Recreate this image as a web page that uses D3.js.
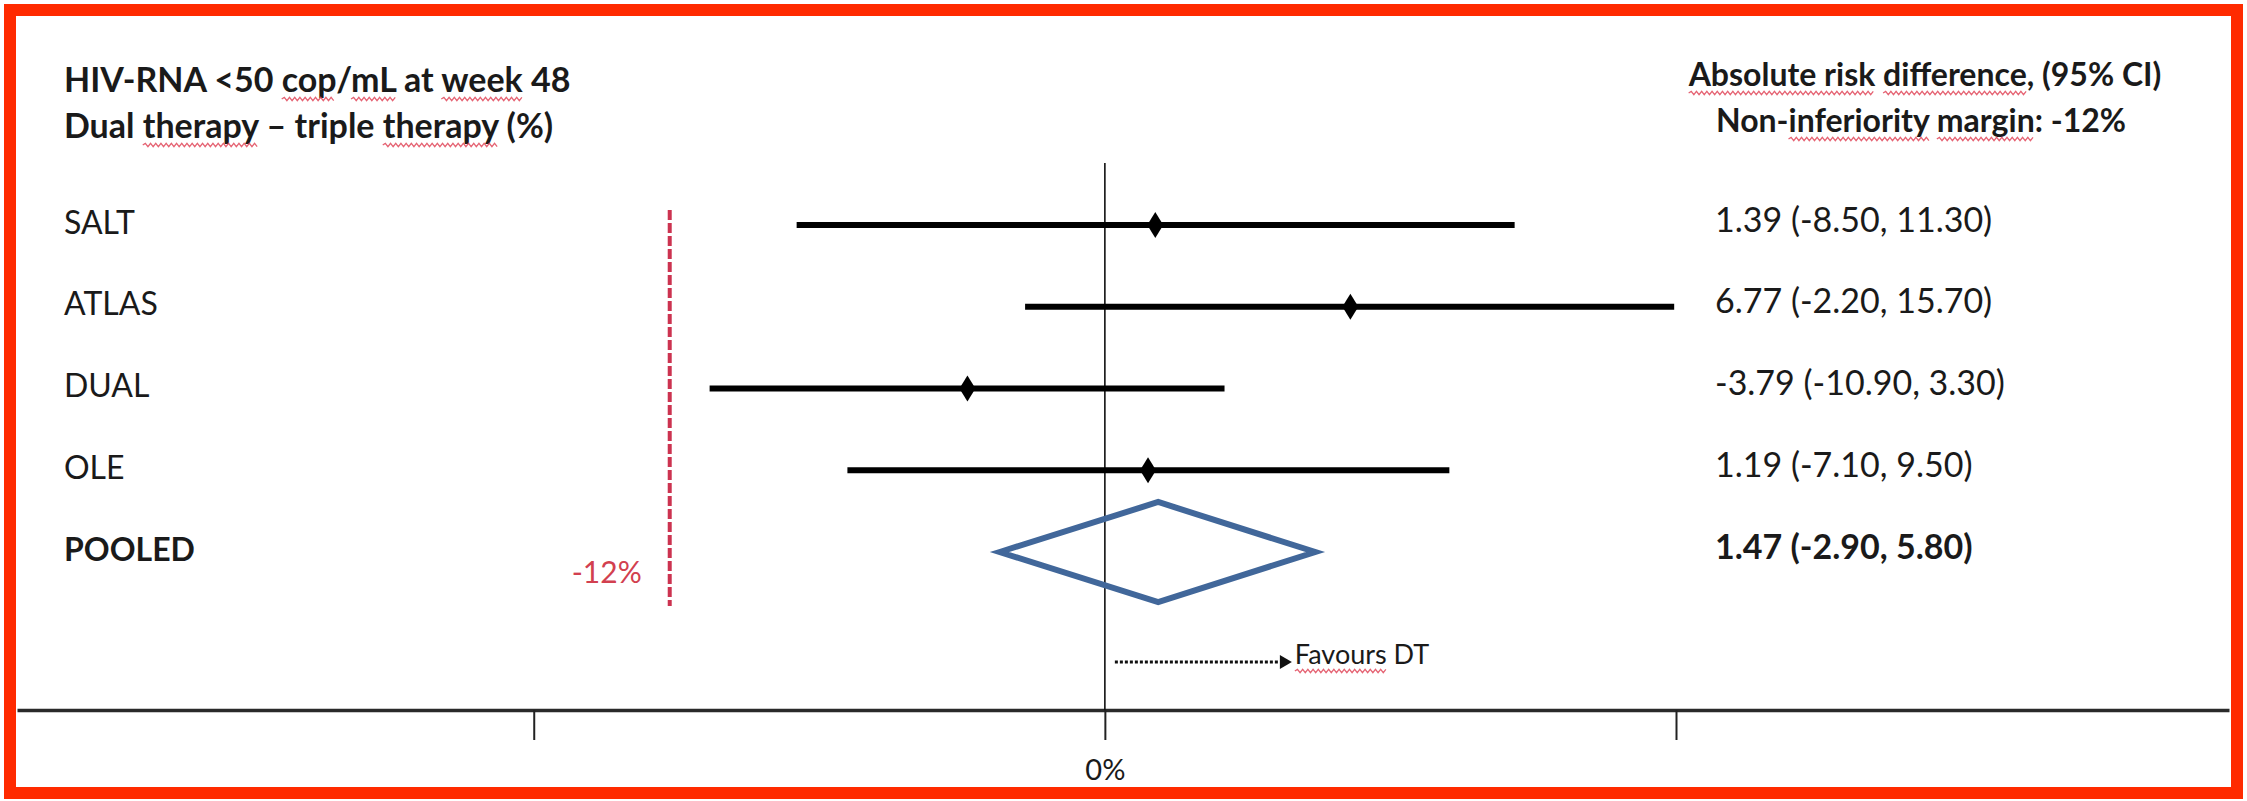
<!DOCTYPE html>
<html>
<head>
<meta charset="utf-8">
<script src="https://cdn.jsdelivr.net/npm/d3@7"></script>
<style>
  html, body { margin: 0; padding: 0; background: #ffffff; }
  svg { display: block; }
  text { font-family: Lato, "Open Sans", sans-serif; }
</style>
</head>
<body>
<svg id="chart" width="2247" height="801"></svg>
<script>
// Individual trials: absolute risk difference (dual - triple therapy) with 95% CI
const studies   = ["SALT", "ATLAS", "DUAL", "OLE"];
const estimates = [1.39, 6.77, -3.79, 1.19];
const lowerCI   = [-8.50, -2.20, -10.90, -7.10];
const upperCI   = [11.30, 15.70, 3.30, 9.50];

// Pooled estimate
const pooledLabel = "POOLED";
const pooledEstimate = 1.47;
const pooledLower = -2.90;
const pooledUpper = 5.80;

// Non-inferiority margin and axis ticks
const marginValue = -12;
const marginLabel = "-12%";
const tickValues = [-15.75, 0, 15.75];
const tickLabels = ["", "0%", ""];

const W = 2247, H = 801;
const svg = d3.select("#chart");
const ink = "#1a1a1a";

svg.append("rect").attr("width", W).attr("height", H).attr("fill", "#ffffff");

const x = d3.scaleLinear().domain([-30, 31]).range([17, 2229]);
const rows = [...studies, pooledLabel];
const y = d3.scalePoint().domain(rows).range([225, 552]);
const axisY = 710;

// plain hyphen for negatives, two decimals
const fmt = v => v.toFixed(2);
const ciText = (e, l, u) => `${fmt(e)} (${fmt(l)}, ${fmt(u)})`;

// spell-check style wavy underline
function squiggle(g, x0, x1, yb) {
  const step = 2.6, amp = 1.6;
  let d = `M${x0},${yb}`;
  let up = true;
  for (let xx = x0 + step; xx <= x1; xx += step) {
    d += `L${xx},${yb + (up ? -amp : amp)}`;
    up = !up;
  }
  g.append("path").attr("d", d).attr("fill", "none")
    .attr("stroke", "#e0485a").attr("stroke-width", 1.3).attr("opacity", 0.85);
}

// text line built from segments; flagged segments get a wavy underline
function textLine(g, segs, px, py, opts) {
  const t = g.append("text")
    .attr("x", px).attr("y", py)
    .attr("text-anchor", opts.anchor || "start")
    .style("font-size", opts.size + "px")
    .style("font-weight", opts.weight || 400)
    .style("fill", opts.fill || ink);
  const full = segs.map(s => s[0]).join("");
  t.text(full);
  let idx = 0;
  segs.forEach(([s, flag]) => {
    if (flag) {
      const a = t.node().getStartPositionOfChar(idx).x;
      const b = t.node().getEndPositionOfChar(idx + s.length - 1).x;
      squiggle(g, a, b, py + 7);
    }
    idx += s.length;
  });
  return t;
}

const head = svg.append("g");
textLine(head, [["HIV-RNA <50 ", 0], ["cop", 1], ["/", 0], ["mL", 1], [" at ", 0], ["week", 1], [" 48", 0]],
  64, 92, { size: 34, weight: 700 });
textLine(head, [["Dual ", 0], ["therapy", 1], [" \u2013 triple ", 0], ["therapy", 1], [" (%)", 0]],
  64, 138, { size: 34, weight: 700 });
textLine(head, [["Absolute risk", 1], [" ", 0], ["difference", 1], [", (95% CI)", 0]],
  1925, 86, { size: 32, weight: 700, anchor: "middle" });
textLine(head, [["Non-", 0], ["inferiority", 1], [" ", 0], ["margin", 1], [": -12%", 0]],
  1921, 132, { size: 32, weight: 700, anchor: "middle" });

// bottom axis with ticks at both sides of zero
const axis = d3.axisBottom(x)
  .tickValues(tickValues)
  .tickFormat((d, i) => tickLabels[i])
  .tickSizeInner(30).tickSizeOuter(0).tickPadding(19);
const gAxis = svg.append("g").attr("transform", `translate(0,${axisY})`).call(axis);
gAxis.select(".domain").attr("stroke", "#2a2a2a").attr("stroke-width", 3.5);
gAxis.selectAll(".tick line").attr("stroke", "#222").attr("stroke-width", 2);
gAxis.selectAll(".tick text").style("font-size", "29px")
  .style("font-family", "Lato, sans-serif").style("fill", ink);

// line of no difference
svg.append("line")
  .attr("x1", x(0)).attr("x2", x(0))
  .attr("y1", 163).attr("y2", axisY)
  .attr("stroke", "#111").attr("stroke-width", 1.6);

// non-inferiority margin
svg.append("line")
  .attr("x1", x(marginValue)).attr("x2", x(marginValue))
  .attr("y1", 210).attr("y2", 606)
  .attr("stroke", "#cc3350").attr("stroke-width", 4)
  .attr("stroke-dasharray", "10,3");
svg.append("text")
  .attr("x", x(marginValue) - 28).attr("y", 571)
  .attr("text-anchor", "end").attr("dominant-baseline", "central")
  .style("font-size", "30px").style("fill", "#d2404f")
  .text(marginLabel);

// study labels
const labels = svg.append("g");
rows.forEach(r => {
  labels.append("text")
    .attr("x", 64).attr("y", y(r) - 4)
    .attr("dominant-baseline", "central")
    .style("font-size", "32px")
    .style("font-weight", r === pooledLabel ? 700 : 400)
    .style("fill", ink)
    .text(r);
});

// confidence intervals and point estimates
const ci = svg.append("g");
studies.forEach((s, i) => {
  ci.append("line")
    .attr("x1", x(lowerCI[i])).attr("x2", x(upperCI[i]))
    .attr("y1", y(s)).attr("y2", y(s))
    .attr("stroke", "#000").attr("stroke-width", 6);
  const cx = x(estimates[i]), cy = y(s);
  ci.append("path")
    .attr("d", `M${cx},${cy - 13}L${cx + 8},${cy}L${cx},${cy + 13}L${cx - 8},${cy}Z`)
    .attr("fill", "#000");
});

// pooled diamond
const py = y(pooledLabel);
svg.append("path")
  .attr("d", `M${x(pooledLower)},${py}L${x(pooledEstimate)},${py - 50}L${x(pooledUpper)},${py}L${x(pooledEstimate)},${py + 50}Z`)
  .attr("fill", "none").attr("stroke", "#41679a").attr("stroke-width", 6)
  .attr("stroke-linejoin", "miter");

// estimate (95% CI) column
const vals = svg.append("g");
rows.forEach((r, i) => {
  const isPooled = r === pooledLabel;
  const txt = isPooled ? ciText(pooledEstimate, pooledLower, pooledUpper)
                       : ciText(estimates[i], lowerCI[i], upperCI[i]);
  vals.append("text")
    .attr("x", 1715).attr("y", y(r) - 7)
    .attr("dominant-baseline", "central")
    .style("font-size", "34px")
    .style("font-weight", isPooled ? 700 : 400)
    .style("fill", ink)
    .text(txt);
});

// direction note
const fav = svg.append("g");
const ax0 = x(0) + 10, ax1 = x(0) + 175;
fav.append("line")
  .attr("x1", ax0).attr("x2", ax1).attr("y1", 662).attr("y2", 662)
  .attr("stroke", "#111").attr("stroke-width", 3).attr("stroke-dasharray", "3,2");
fav.append("path")
  .attr("d", `M${ax1},655L${ax1 + 12},662L${ax1},669Z`).attr("fill", "#111");
textLine(fav, [["Favours", 1], [" DT", 0]], ax1 + 15, 664, { size: 27 });

// frame
svg.append("rect")
  .attr("x", 10).attr("y", 10).attr("width", 2227).attr("height", 783)
  .attr("fill", "none").attr("stroke", "#ff2a00").attr("stroke-width", 12);
</script>
</body>
</html>
